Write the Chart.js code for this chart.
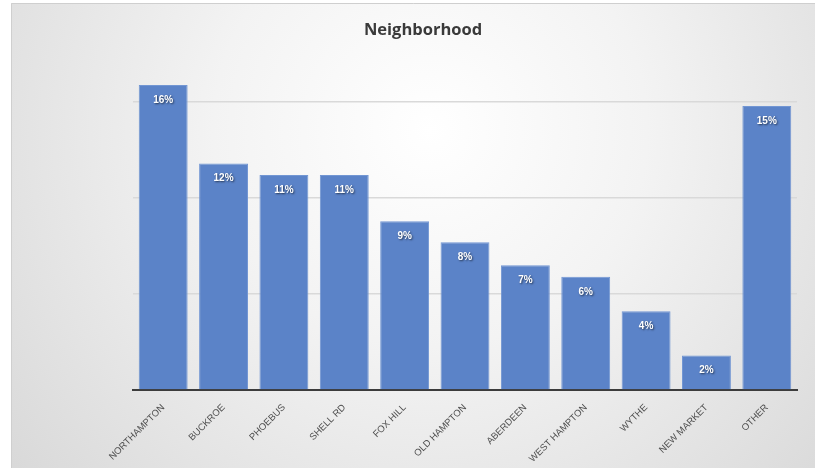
<!DOCTYPE html>
<html>
<head>
<meta charset="utf-8">
<script src="https://cdn.jsdelivr.net/npm/chart.js@4.4.1/dist/chart.umd.min.js"></script>
<style>
  html, body { margin: 0; padding: 0; background: #fff; }
  #wrap { width: 815px; height: 468px; }
</style>
</head>
<body>
<div id="wrap"><canvas id="mycanvas" width="815" height="468"></canvas></div>
<script>
// neighborhoods, share of responses in percent
var neighborhoods = ['NORTHAMPTON', 'BUCKROE', 'PHOEBUS', 'SHELL RD', 'FOX HILL', 'OLD HAMPTON',
  'ABERDEEN', 'WEST HAMPTON', 'WYTHE', 'NEW MARKET', 'OTHER'];
var share = [15.9, 11.8, 11.2, 11.2, 8.8, 7.7, 6.5, 5.9, 4.1, 1.8, 14.8];
var gridStep = 5;
var axisMax = 17;

// grey panel behind the chart, lighter in the middle
var panelBg = {
  id: 'panelBg',
  beforeDraw: function(chart) {
    var c = chart.ctx;
    c.save();
    c.fillStyle = '#ffffff';
    c.fillRect(0, 0, chart.width, chart.height);
    var g = c.createRadialGradient(430, 130, 0, 430, 130, 620);
    g.addColorStop(0, '#ffffff');
    g.addColorStop(0.35, '#f3f3f3');
    g.addColorStop(1, '#d2d2d2');
    c.fillStyle = g;
    c.fillRect(11, 3, chart.width - 11, chart.height - 3);
    c.strokeStyle = '#cfcfcf';
    c.lineWidth = 1;
    c.beginPath();
    c.moveTo(11.5, chart.height);
    c.lineTo(11.5, 3.5);
    c.lineTo(chart.width, 3.5);
    c.stroke();
    c.restore();
  }
};

// white % labels at the top inside each bar
var barLabels = {
  id: 'barLabels',
  afterDatasetsDraw: function(chart) {
    var c = chart.ctx;
    var meta = chart.getDatasetMeta(0);
    c.save();
    c.font = 'bold 10px "Liberation Sans", Arial, sans-serif';
    c.fillStyle = '#ffffff';
    c.textAlign = 'center';
    c.textBaseline = 'middle';
    c.shadowColor = 'rgba(0,0,0,0.6)';
    c.shadowBlur = 2;
    c.shadowOffsetX = 1;
    c.shadowOffsetY = 1;
    meta.data.forEach(function(bar, i) {
      c.fillText(Math.round(share[i]) + '%', bar.x, bar.y + 15);
    });
    c.restore();
  }
};

var ctx = document.getElementById('mycanvas');
var barGraph = new Chart(ctx, {
  type: 'bar',
  data: {
    labels: neighborhoods,
    datasets: [{
      label: 'Neighborhood',
      data: share,
      backgroundColor: '#5b83c8',
      borderColor: '#7296d3',
      borderWidth: 1,
      borderSkipped: 'bottom',
      categoryPercentage: 1,
      barPercentage: 0.81
    }]
  },
  options: {
    responsive: false,
    animation: false,
    layout: { padding: { left: 49, right: 18, top: 0, bottom: 0 } },
    plugins: {
      legend: { display: false },
      tooltip: { enabled: false },
      title: {
        display: true,
        text: 'Neighborhood',
        color: '#3a3a3a',
        font: { family: '"Open Sans", sans-serif', size: 16.5, weight: 'bold' },
        padding: { top: 20, bottom: 24 }
      }
    },
    scales: {
      x: {
        afterFit: function(scale) { scale.height = 78; },
        grid: { display: false },
        border: { display: true, color: '#3c3c3c', width: 2 },
        ticks: {
          color: '#4f4f4f',
          font: { family: '"Liberation Sans", Arial, sans-serif', size: 9.5 },
          minRotation: 45,
          maxRotation: 45,
          autoSkip: false,
          padding: 4
        }
      },
      y: {
        min: 0,
        max: axisMax,
        afterFit: function(scale) { scale.width = 84; },
        border: { display: false },
        ticks: { display: false, stepSize: gridStep },
        grid: {
          drawTicks: false,
          lineWidth: 1.5,
          color: function(c) {
            return c.tick && c.tick.value % gridStep === 0 ? '#d9d9d9' : 'rgba(0,0,0,0)';
          }
        }
      }
    }
  },
  plugins: [panelBg, barLabels]
});
</script>
</body>
</html>
